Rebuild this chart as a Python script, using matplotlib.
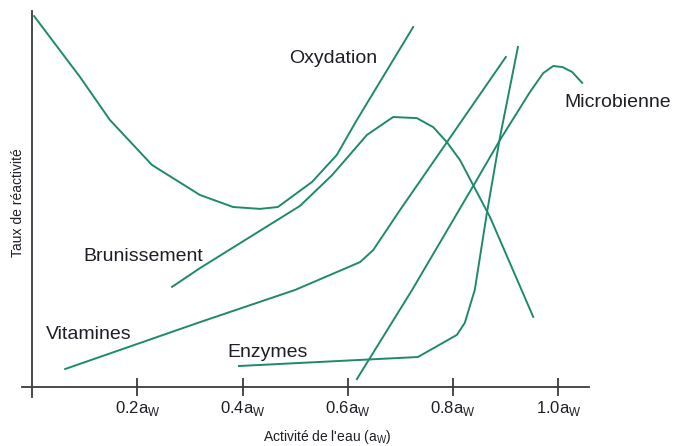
import matplotlib
matplotlib.use("Agg")
import matplotlib.pyplot as plt

plt.rcParams['font.family'] = ['Liberation Sans', 'DejaVu Sans']
plt.rcParams['mathtext.fontset'] = 'custom'
plt.rcParams['mathtext.rm'] = 'Liberation Sans'

# Water activity (x) vs relative reaction rate (y, arbitrary units 0-100)
oxy_x = [0.004, 0.091, 0.148, 0.228, 0.319, 0.382, 0.433, 0.467, 0.532, 0.579, 0.617, 0.724]
oxy_y = [98.9, 82.7, 71.2, 59.2, 51.2, 48.0, 47.5, 48.0, 54.7, 61.9, 71.2, 96.0]

brun_x = [0.266, 0.319, 0.509, 0.570, 0.636, 0.686, 0.731, 0.762, 0.788, 0.813, 0.870, 0.952]
brun_y = [26.7, 31.7, 48.3, 56.5, 67.2, 72.0, 71.7, 69.3, 65.3, 60.5, 45.3, 18.7]

vit_x = [0.063, 0.319, 0.500, 0.623, 0.648, 0.699, 0.900]
vit_y = [4.8, 17.3, 25.9, 33.3, 36.5, 47.2, 88.0]

enz_x = [0.393, 0.733, 0.807, 0.822, 0.841, 0.864, 0.889, 0.923]
enz_y = [5.6, 8.0, 13.9, 17.1, 25.9, 46.4, 66.7, 90.7]

mic_x = [0.617, 0.722, 0.838, 0.889, 0.946, 0.971, 0.990, 1.008, 1.026, 1.045]
mic_y = [2.1, 25.9, 53.6, 65.9, 78.7, 83.7, 85.6, 85.3, 84.0, 81.1]

tick_vals = [0.2, 0.4, 0.6, 0.8, 1.0]
tick_labels = [r'0.2a$_\mathregular{W}$', r'0.4a$_\mathregular{W}$', r'0.6a$_\mathregular{W}$',
               r'0.8a$_\mathregular{W}$', r'1.0a$_\mathregular{W}$']

labels = ['Oxydation', 'Brunissement', 'Vitamines', 'Enzymes', 'Microbienne']
label_x = [0.572, 0.211, 0.107, 0.448, 1.113]
label_y = [87.5, 34.7, 13.9, 9.1, 76.0]

green = '#1f8a6b'
text_c = '#1e1e26'
fig = plt.figure(figsize=(6.86, 4.46), dpi=100)
ax = fig.add_axes([0, 0, 1, 1])
ax.set_xlim(-0.0608, 1.2422)
ax.set_ylim(-15.73, 103.2)

for xs, ys in [(oxy_x, oxy_y), (brun_x, brun_y), (vit_x, vit_y), (enz_x, enz_y), (mic_x, mic_y)]:
    ax.plot(xs, ys, color=green, lw=1.4, solid_joinstyle='round')

for t, x, y in zip(labels, label_x, label_y):
    ax.text(x, y, t, fontsize=14, color=text_c, ha='center', va='center')

for s in ['top', 'right']:
    ax.spines[s].set_visible(False)
ax.spines['left'].set_position(('data', 0))
ax.spines['bottom'].set_position(('data', 0))
ax.spines['left'].set_bounds(-2.7, 100.3)
ax.spines['bottom'].set_bounds(-0.019, 1.058)
for s in ['left', 'bottom']:
    ax.spines[s].set_color('#3c3c3c')
    ax.spines[s].set_linewidth(1.3)

ax.set_yticks([])
ax.set_xticks(tick_vals)
ax.set_xticklabels(tick_labels, fontsize=12, color=text_c)
ax.tick_params(axis='x', direction='inout', length=13.5, width=1.3, color='#3c3c3c', pad=2)

ax.text(-0.027, 49.3, 'Taux de réactivité', fontsize=10, rotation=90,
        ha='center', va='center', color=text_c)
ax.text(0.560, -13.3, r"Activité de l'eau (a$_\mathregular{W}$)", fontsize=10,
        ha='center', va='center', color=text_c)

fig.savefig('out.png', dpi=100, facecolor='white')
